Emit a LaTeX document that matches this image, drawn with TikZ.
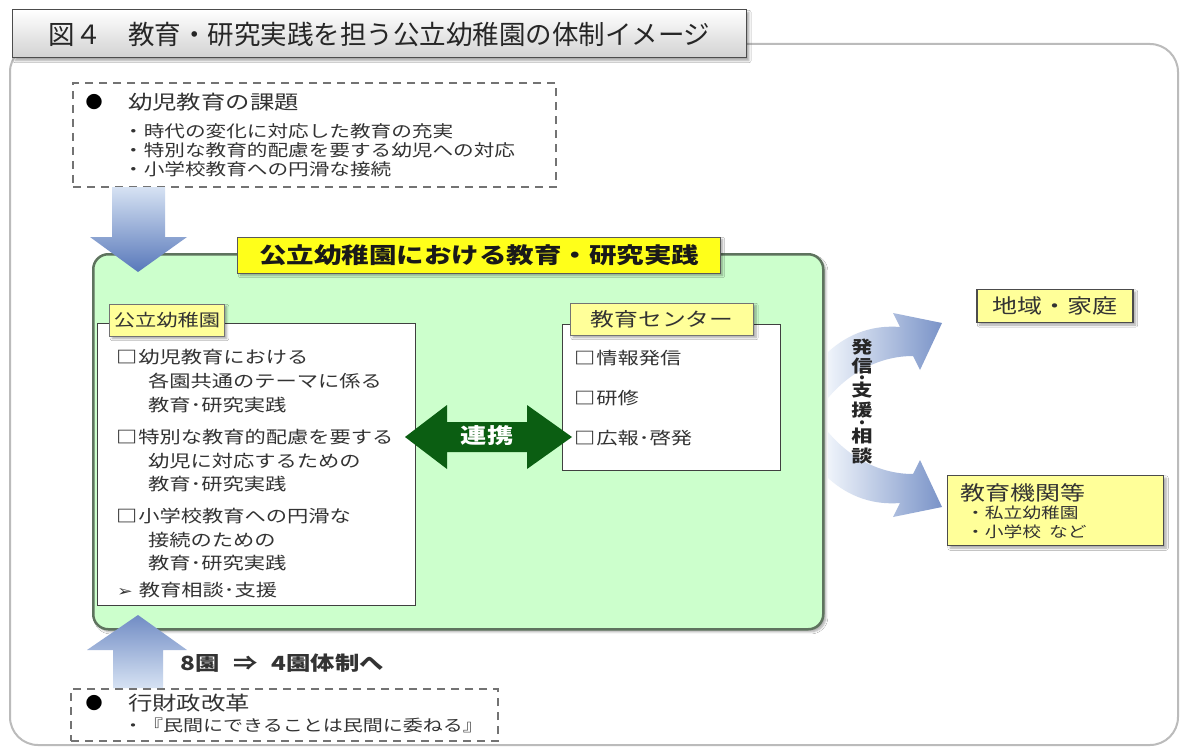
\documentclass[tikz,border=0pt]{standalone}
\usepackage{fontspec}
\setmainfont{Noto Sans CJK JP}
\newfontfamily\jp{Noto Sans CJK JP}[FakeStretch=1.25]
\newfontfamily\jpt{Noto Sans CJK JP}
\newfontfamily\dv{DejaVu Sans}[FakeStretch=1.25]
\usetikzlibrary{shadows.blur,calc}
\definecolor{txtc}{HTML}{333333}
\definecolor{grnfill}{HTML}{CCFFCC}
\definecolor{grnline}{HTML}{5E735E}
\definecolor{ylw}{HTML}{FFFF1A}
\definecolor{lylw}{HTML}{FFFF99}
\definecolor{dkgrn}{HTML}{0B5E12}
\definecolor{arrl}{HTML}{D6E2F3}
\definecolor{arrd}{HTML}{5878BA}
\definecolor{framec}{HTML}{BBBBBB}
\begin{document}
\begin{tikzpicture}[x=1bp,y=-1bp,
  shd/.style={blur shadow={shadow blur steps=6,shadow xshift=2.5bp,shadow yshift=-2.5bp,shadow opacity=35}},
  titlebox/.style={draw=black!70,line width=1bp,top color=white,bottom color=black!18,shd,inner xsep=36bp,inner ysep=0,minimum height=48bp,anchor=west,text=black!85,font=\jpt\fontsize{26.5bp}{30bp}\selectfont},
  dashbox/.style={draw=black!55,line width=2bp,dash pattern=on 8bp off 6bp,fill=white,anchor=north west,inner sep=0},
  greenbox/.style={draw=grnline,line width=2.5bp,fill=grnfill,rounded corners=15bp,anchor=north west,inner sep=0,shd},
  whitebox/.style={draw=black!75,line width=1.2bp,fill=white,anchor=north west,inner sep=0},
  biglabel/.style={draw=black!65,line width=1bp,fill=ylw,shd,minimum height=36bp,minimum width=482bp,inner sep=0,text=black!90,font=\jp\bfseries\fontsize{22bp}{26bp}\selectfont},
  sublabel/.style={draw=black!55,line width=1bp,fill=lylw,shd,minimum height=32bp,inner xsep=9bp,inner ysep=0,text=txtc,font=\jp\fontsize{17bp}{20bp}\selectfont},
  sidebox/.style={draw=black!70,line width=1.2bp,fill=lylw,shd,inner sep=0},
  txt/.style={inner sep=0,anchor=west,text=txtc,font=\jp\fontsize{17bp}{20bp}\selectfont},
  head/.style={txt,font=\jp\fontsize{19.5bp}{22bp}\selectfont},
  item/.style={txt,font=\jp\fontsize{16.5bp}{19bp}\selectfont},
  small/.style={txt,font=\jp\fontsize{16bp}{19bp}\selectfont},
  bul/.style={inner sep=0,text=black,font=\jpt\fontsize{17bp}{20bp}\selectfont},
  vch/.style={inner sep=0,text=black!85,font=\jp\bfseries\fontsize{17bp}{18bp}\selectfont},
  vdot/.style={inner sep=0,text=black!85,font=\jpt\fontsize{4.5bp}{5bp}\selectfont}]
\useasboundingbox (0,0) rectangle (1184,747);
\fill[white] (0,0) rectangle (1184,747);

% outer frame
\draw[framec,line width=2bp,rounded corners=28bp] (10,44) rectangle (1178,745);
\node[titlebox] (title) at (12,34) {図４　教育・研究実践を担う公立幼稚園の体制イメージ};

% top dashed box
\node[dashbox,minimum width=483bp,minimum height=104bp] (issues) at (72,82) {};
\node[bul] (b1) at (94,102) {●};
\node[head] (h1) at (128,102) {幼児教育の課題};
\node[item] (i1) at (123,131) {・時代の変化に対応した教育の充実};
\node[item] (i2) at (123,150) {・特別な教育的配慮を要する幼児への対応};
\node[item] (i3) at (123,169) {・小学校教育への円滑な接続};

% green box
\node[greenbox,minimum width=730bp,minimum height=375bp] (gbox) at (92,253) {};
\node[biglabel] (glabel) at (479,255) {公立幼稚園における教育・研究実践};

% down arrow
\shade[top color=arrl,bottom color=arrd] (112,187) -- (165,187) -- (165,237) -- (187,237) -- (138,272) -- (90,237) -- (112,237) -- cycle;

% left white box
\node[whitebox,minimum width=318bp,minimum height=282bp] (kbox) at (97,323) {};
\node[sublabel,minimum width=112bp,inner xsep=4bp] (klabel) at (167,320) {公立幼稚園};
\node[txt] (k1) at (116,357) {{\bfseries □}\hspace{1bp}幼児教育における};
\node[txt] (k2) at (148,381) {各園共通のテーマに係る};
\node[txt] (k3) at (148,405) {教育･研究実践};
\node[txt] (k4) at (116,437) {{\bfseries □}\hspace{1bp}特別な教育的配慮を要する};
\node[txt] (k5) at (148,461) {幼児に対応するための};
\node[txt] (k6) at (148,484) {教育･研究実践};
\node[txt] (k7) at (116,516) {{\bfseries □}\hspace{1bp}小学校教育への円滑な};
\node[txt] (k8) at (148,540) {接続のための};
\node[txt] (k9) at (148,563) {教育･研究実践};
\node[txt] (k10) at (117,590) {{\dv\fontsize{15bp}{17bp}\selectfont ➢}\hspace{6bp}教育相談･支援};

% right white box
\node[whitebox,minimum width=218bp,minimum height=146bp] (cbox) at (562,324) {};
\node[sublabel,minimum width=183bp,font=\jp\fontsize{19bp}{22bp}\selectfont] (clabel) at (662,319) {教育センター};
\node[txt] (c1) at (574,358) {{\bfseries □}\hspace{1bp}情報発信};
\node[txt] (c2) at (574,398) {{\bfseries □}\hspace{1bp}研修};
\node[txt] (c3) at (574,438) {{\bfseries □}\hspace{1bp}広報･啓発};

% double arrow
\coordinate (la) at (405,437);
\coordinate (rb) at (572,437);
\fill[dkgrn] (la) -- (447,405) -- (447,422) -- (527,422) -- (527,405) -- (rb) -- (527,469) -- (527,452) -- (447,452) -- (447,469) -- cycle;
\node[inner sep=0,text=white,font=\jp\bfseries\fontsize{21bp}{24bp}\selectfont] (renkei) at (487,436) {連携};

% up arrow
\shade[top color=arrd!85,bottom color=arrl] (113,688) -- (163,688) -- (163,650) -- (187,650) -- (138,615) -- (87,650) -- (113,650) -- cycle;
\node[txt,font=\jp\bfseries\fontsize{19.5bp}{22bp}\selectfont] (eight) at (180,663) {8園\hspace{14bp}⇒\hspace{14bp}4園体制へ};

% bottom dashed box
\node[dashbox,minimum width=427bp,minimum height=52bp] (reform) at (70,688) {};
\node[bul] (b2) at (94,703) {●};
\node[head] (h2) at (128,703) {行財政改革};
\node[small] (r1) at (123,725) {・『民間にできることは民間に委ねる』};

% right curved arrows
\shade[left color=arrl!40,right color=arrd!80] (828,352) .. controls (850,332) and (875,325) .. (900,327) -- (893,313) -- (942,323) -- (920,370) -- (913,356) .. controls (880,356) and (850,372) .. (828,398) -- cycle;
\shade[left color=arrl!40,right color=arrd!80] (828,478) .. controls (850,498) and (875,505) .. (900,503) -- (893,517) -- (942,507) -- (920,460) -- (913,474) .. controls (880,474) and (850,458) .. (828,432) -- cycle;
\node[vch] (v1) at (862,347) {発};
\node[vch] (v2) at (862,366) {信};
\node[vdot] (v3) at (862,378) {●};
\node[vch] (v4) at (862,390) {支};
\node[vch] (v5) at (862,410) {援};
\node[vdot] (v6) at (862,423) {●};
\node[vch] (v7) at (862,436) {相};
\node[vch] (v8) at (862,456) {談};

% right boxes
\node[sidebox,minimum width=156bp,minimum height=33bp,font=\jp\fontsize{20bp}{22bp}\selectfont,text=txtc] (chiiki) at (1055,306) {地域・家庭};
\node[sidebox,minimum width=216bp,minimum height=70bp,anchor=north west] (kikan) at (947,475) {};
\node[txt,font=\jp\fontsize{20bp}{22bp}\selectfont] (kk1) at (960,493) {教育機関等};
\node[txt,font=\jp\fontsize{15bp}{18bp}\selectfont] (kk2) at (966,513) {・私立幼稚園};
\node[txt,font=\jp\fontsize{15bp}{18bp}\selectfont] (kk3) at (966,532) {・小学校\hspace{8bp}など};
\end{tikzpicture}
\end{document}
